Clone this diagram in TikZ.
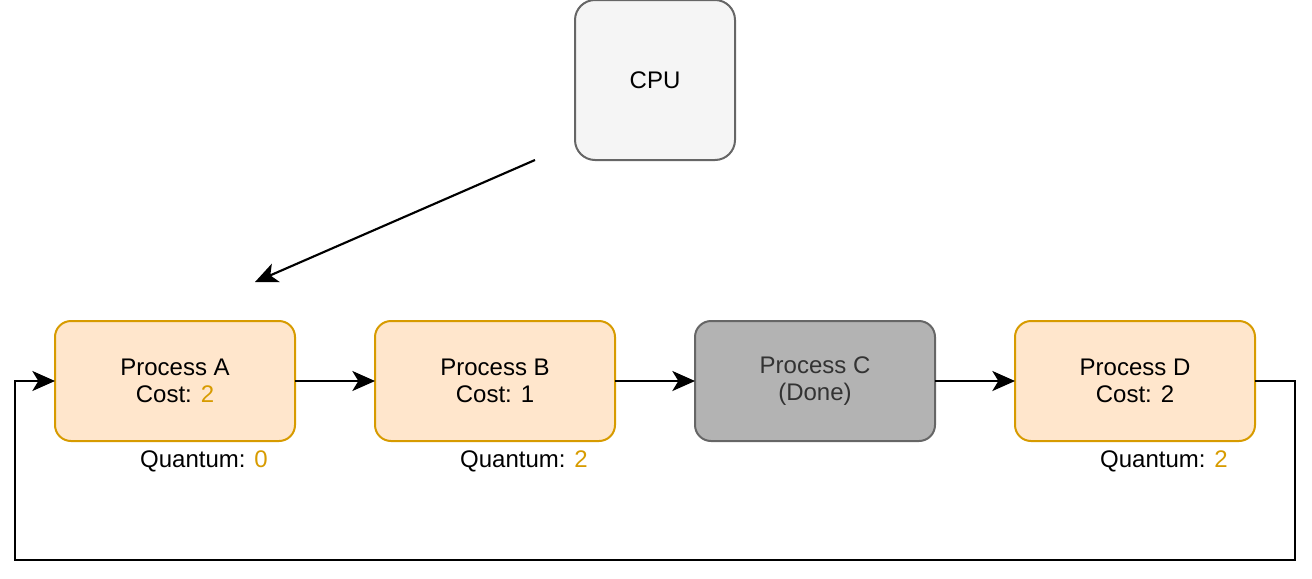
\documentclass[tikz,border=0pt]{standalone}
\usepackage{fontspec}
\setmainfont{Liberation Sans}
\usetikzlibrary{arrows.meta,positioning}
\definecolor{procfill}{HTML}{FFE6CC}
\definecolor{procdraw}{HTML}{D79B00}
\definecolor{donefill}{HTML}{B3B3B3}
\definecolor{greydraw}{HTML}{666666}
\definecolor{cpufill}{HTML}{F5F5F5}
\newcommand{\hl}[1]{\textcolor{procdraw}{#1}}
\tikzset{node distance=60pt, % gap between two process boxes
        every node/.style={font=\fontsize{18}{20.5}\selectfont},
        proc/.style={ % process waiting in the queue
            draw=procdraw, fill=procfill, line width=1.5pt, outer sep=0pt,
            rounded corners=12pt, minimum width=180pt, minimum height=90pt,
            align=center},
        done/.style={ % finished process
            proc, draw=greydraw, fill=donefill, text=black!80},
        cpu/.style={
            draw=greydraw, fill=cpufill, line width=1.5pt,
            rounded corners=15pt, minimum width=120pt, minimum height=120pt},
        link/.style={ % arrows between boxes
            draw, line width=1.6pt, -{Stealth[length=17pt,width=15pt,inset=4.5pt]}}
        }

\begin{document}
\begin{tikzpicture}[x=0.75pt,y=-0.75pt]
    \useasboundingbox (0,0) rectangle (1312,578);

    \node[cpu]  (cpu) at (655,80)        {CPU};
    \node[proc] (pa)  at (175,381)       {Process A\\Cost: \hl{2}};
    \node[proc] (pb)  [right=of pa]      {Process B\\Cost: 1};
    \node[done] (pc)  [right=of pb]      {Process C\\(Done)};
    \node[proc] (pd)  [right=of pc]      {Process D\\Cost: 2};

    \node (qa) at (204,461)  {Quantum: \hl{0}};
    \node (qb) at (524,461)  {Quantum: \hl{2}};
    \node (qd) at (1164,461) {Quantum: \hl{2}};

    \coordinate (cpuout) at (535,160);
    \coordinate (cpuin)  at (255,282);
    \coordinate (back1)  at (1295,381);
    \coordinate (back2)  at (15,560);

    \path[link] (cpuout) -- (cpuin);
    \path[link] (pa) -- (pb);
    \path[link] (pb) -- (pc);
    \path[link] (pc) -- (pd);
    \path[link] (pd.east) -- (back1) |- (back2) |- (pa.west);
\end{tikzpicture}
\end{document}
